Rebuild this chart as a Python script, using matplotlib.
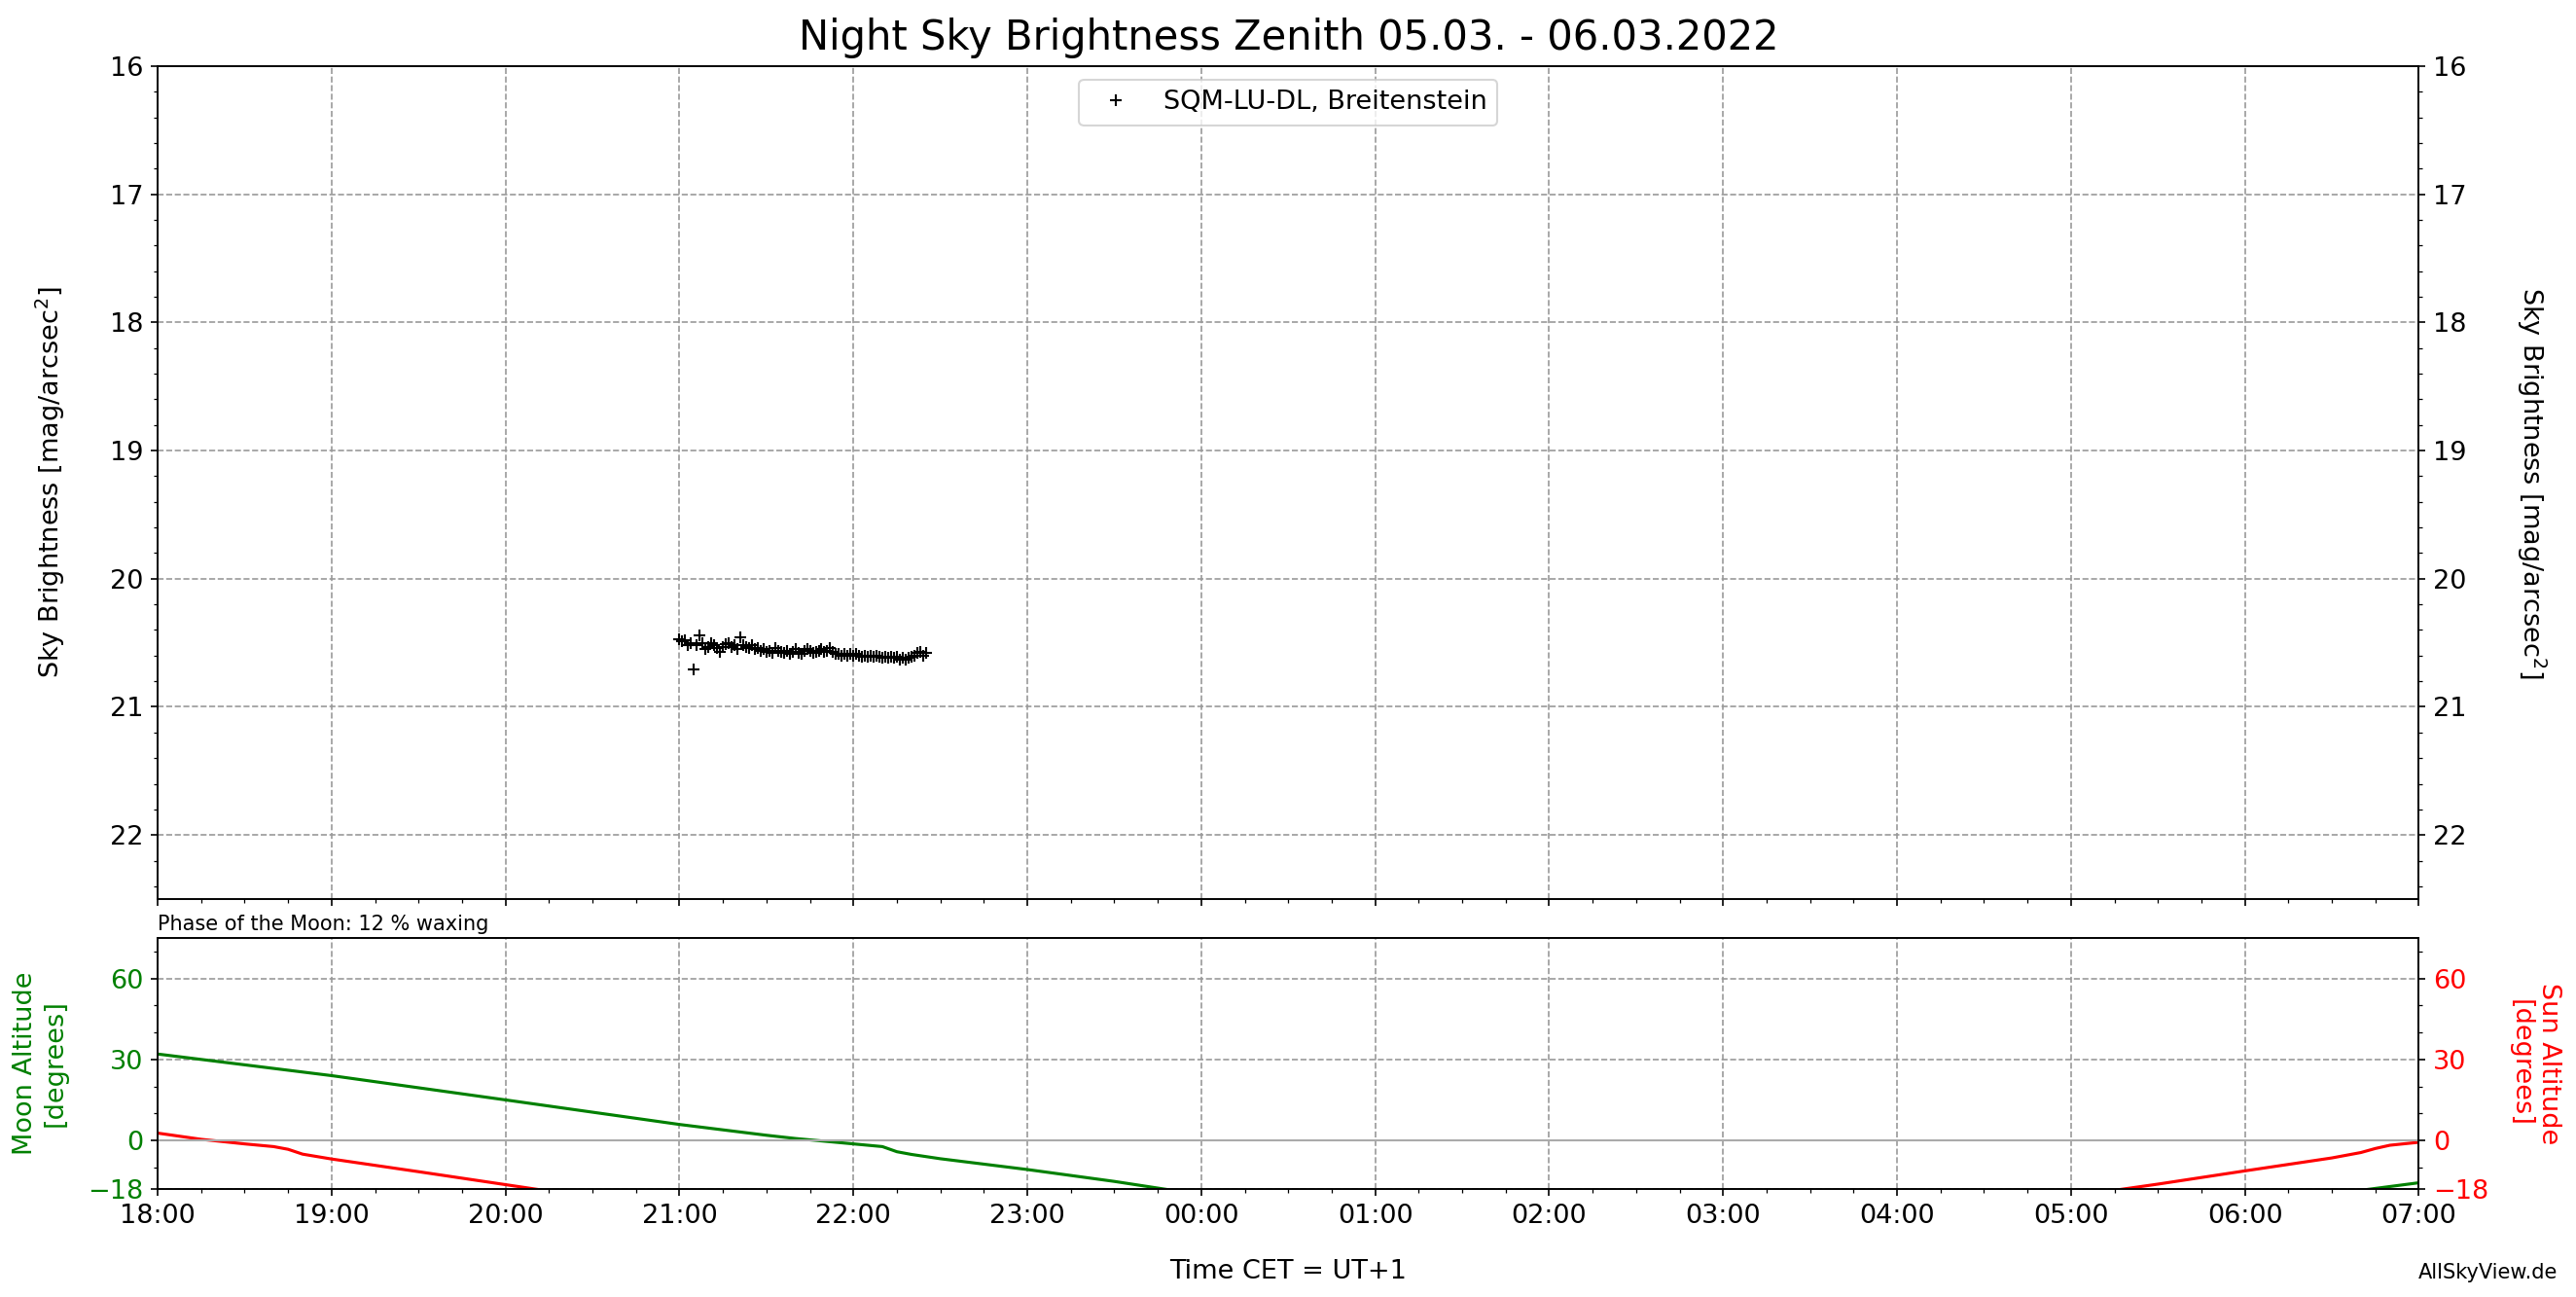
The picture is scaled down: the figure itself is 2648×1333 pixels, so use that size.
import numpy as np
import pandas as pd
import matplotlib
matplotlib.use('Agg')
import matplotlib.pyplot as plt
import matplotlib.dates as mdates
from matplotlib.ticker import MultipleLocator

# SQM-Messwerte, eine Minute Abstand ab 21:00
sqm_start = '21:00'
sqm_mag = [20.47, 20.49, 20.48, 20.52, 20.50, 20.71, 20.52, 20.44, 20.50, 20.55,
           20.53, 20.50, 20.52, 20.54, 20.57, 20.53, 20.51, 20.50, 20.53, 20.52,
           20.55, 20.46, 20.52, 20.53, 20.54, 20.52, 20.55, 20.54, 20.56, 20.55,
           20.57, 20.56, 20.58, 20.54, 20.56, 20.57, 20.58, 20.56, 20.59, 20.57,
           20.55, 20.58, 20.59, 20.56, 20.55, 20.56, 20.58, 20.57, 20.56, 20.55,
           20.57, 20.56, 20.54, 20.57, 20.59, 20.59, 20.60, 20.59, 20.60, 20.59,
           20.60, 20.59, 20.60, 20.61, 20.60, 20.61, 20.60, 20.61, 20.60, 20.61,
           20.62, 20.61, 20.62, 20.61, 20.62, 20.61, 20.63, 20.62, 20.63, 20.62,
           20.61, 20.60, 20.58, 20.57, 20.60, 20.58]

# Mondhoehe (Abend, Morgen)
moon_time_pm = ['18:00', '19:00', '20:00', '21:00', '21:30', '21:40', '22:00', '22:10',
                '22:15', '22:20', '22:30', '23:00', '23:30', '23:50']
moon_alt_pm = [32.0, 24.0, 15.0, 5.9, 1.9, 0.7, -1.3, -2.3,
               -4.2, -5.2, -6.8, -10.8, -15.2, -18.5]
moon_time_am = ['06:40', '07:00']
moon_alt_am = [-18.5, -15.7]

# Sonnenhoehe (Abend, Morgen)
sun_time_pm = ['18:00', '18:15', '18:30', '18:40', '18:45', '18:50', '19:00', '19:30',
               '20:00', '20:15']
sun_alt_pm = [2.7, 0.4, -1.3, -2.3, -3.3, -5.1, -6.9, -11.6, -16.4, -18.8]
sun_time_am = ['05:15', '05:30', '06:00', '06:30', '06:40', '06:45', '06:50', '07:00']
sun_alt_am = [-18.5, -16.2, -11.3, -6.5, -4.5, -3.0, -1.8, -0.7]


def to_dt(hhmm):
    h = int(hhmm[:2])
    day = '2022-03-05' if h >= 12 else '2022-03-06'
    return pd.Timestamp(day + ' ' + hhmm)


sqm_t = pd.date_range(to_dt(sqm_start), periods=len(sqm_mag), freq='1min')

fig = plt.figure(figsize=(2648 / 150, 1333 / 150), dpi=150)
ax1 = fig.add_axes([0.0612, 0.3068, 0.8778, 0.6422])
ax2 = fig.add_axes([0.0612, 0.0833, 0.8778, 0.1935], sharex=ax1)

fs = 13
grid_kw = dict(color='#999999', linestyle='--', linewidth=0.8)

# oberes Diagramm
ax1.plot(sqm_t, sqm_mag, '+', color='k', markersize=6, label='SQM-LU-DL, Breitenstein')
ax1.set_ylim(22.5, 16)
ax1.yaxis.set_major_locator(MultipleLocator(1))
ax1.yaxis.set_minor_locator(MultipleLocator(0.2))
ax1.grid(True, which='major', **grid_kw)
ax1.set_ylabel('Sky Brightness [mag/arcsec$^2$]', fontsize=fs, labelpad=21)
ax1.tick_params(axis='both', labelsize=fs)
ax1.tick_params(axis='x', labelbottom=False)
ax1.legend(loc='upper center', fontsize=fs)
ax1.set_title('Night Sky Brightness Zenith 05.03. - 06.03.2022', fontsize=20, pad=8)

ax1r = ax1.twinx()
ax1r.set_ylim(22.5, 16)
ax1r.yaxis.set_major_locator(MultipleLocator(1))
ax1r.yaxis.set_minor_locator(MultipleLocator(0.2))
ax1r.tick_params(axis='y', labelsize=fs)
ax1r.set_ylabel('Sky Brightness [mag/arcsec$^2$]', fontsize=fs, rotation=270, labelpad=40)

# unteres Diagramm
ax2.plot([to_dt(s) for s in moon_time_pm], moon_alt_pm, color='green', linewidth=1.5)
ax2.plot([to_dt(s) for s in moon_time_am], moon_alt_am, color='green', linewidth=1.5)
ax2.plot([to_dt(s) for s in sun_time_pm], sun_alt_pm, color='red', linewidth=1.5)
ax2.plot([to_dt(s) for s in sun_time_am], sun_alt_am, color='red', linewidth=1.5)
ax2.axhline(0, color='#aaaaaa', linewidth=1.0)
ax2.set_ylim(-18, 75)
ax2.set_yticks([-18, 0, 30, 60])
ax2.yaxis.set_minor_locator(MultipleLocator(10))
ax2.grid(True, which='major', **grid_kw)
ax2.set_ylabel('Moon Altitude\n[degrees]', color='green', fontsize=fs, labelpad=10)
ax2.tick_params(axis='y', labelsize=fs, labelcolor='green')
ax2.tick_params(axis='x', labelsize=fs)
ax2.set_title('Phase of the Moon: 12 % waxing', loc='left', fontsize=10, pad=4)
ax2.set_xlabel('Time CET = UT+1', fontsize=fs, labelpad=15)

ax2r = ax2.twinx()
ax2r.set_ylim(-18, 75)
ax2r.set_yticks([-18, 0, 30, 60])
ax2r.yaxis.set_minor_locator(MultipleLocator(10))
ax2r.tick_params(axis='y', labelsize=fs, labelcolor='red')
ax2r.set_ylabel('Sun Altitude\n[degrees]', color='red', fontsize=fs, rotation=270, labelpad=36)

ax2.set_xlim(to_dt('18:00'), to_dt('07:00'))
ax2.xaxis.set_major_locator(mdates.HourLocator())
ax2.xaxis.set_minor_locator(mdates.MinuteLocator(byminute=[15, 30, 45]))
ax2.xaxis.set_major_formatter(mdates.DateFormatter('%H:%M'))

fig.text(0.993, 0.019, 'AllSkyView.de', ha='right', va='center', fontsize=10)

fig.savefig('out.png', dpi=150)
